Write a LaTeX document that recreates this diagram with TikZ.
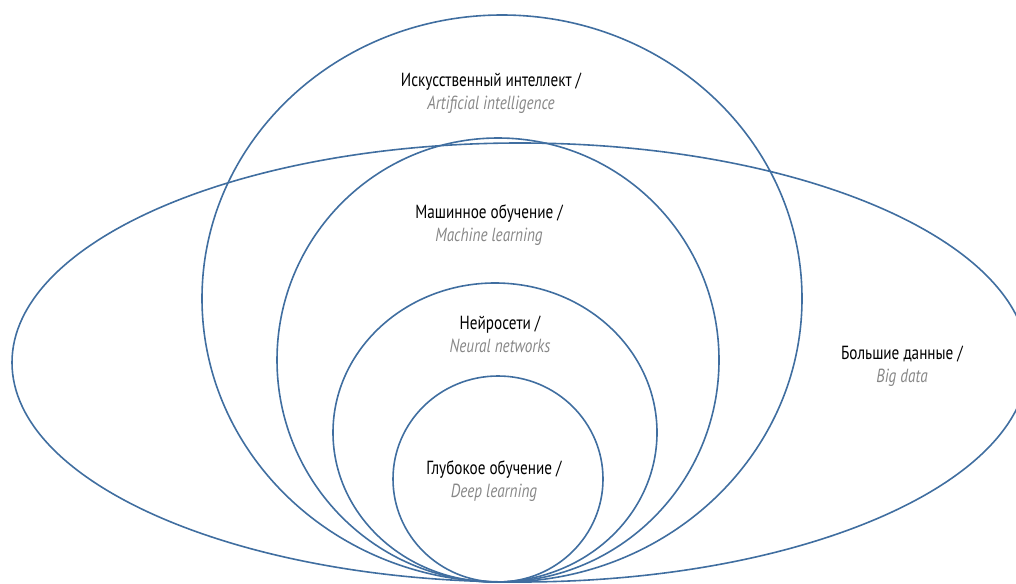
\documentclass[tikz,border=0pt]{standalone}
\usepackage{fontspec}
\setmainfont[FakeStretch=0.8]{PT Sans}
\usetikzlibrary{shapes.geometric}
\definecolor{ringblue}{RGB}{64,110,160}
\definecolor{subgray}{RGB}{135,135,135}
\tikzset{
  ring/.style={draw=ringblue, line width=1.6pt},
  lbl/.style={align=center, font=\fontsize{19}{23}\selectfont, inner sep=0pt, text=black},
}
\newcommand{\engl}[1]{{\color{subgray}\itshape #1}}
\begin{document}
\begin{tikzpicture}[x=1pt,y=-1pt]
\useasboundingbox (0,0) rectangle (1016,583);
\clip (0,0) rectangle (1016,583);
% shapes
\draw[ring] (520,362.5) ellipse [x radius=508pt, y radius=219.5pt];
\draw[ring] (502,298.5) ellipse [x radius=300pt, y radius=283.5pt];
\draw[ring] (498,360) ellipse [x radius=221pt, y radius=222pt];
\draw[ring] (495,432.5) ellipse [x radius=162pt, y radius=149.5pt];
\draw[ring] (498,479) ellipse [x radius=105pt, y radius=103pt];
% labels
\node[lbl] (ai) at (491,93) {Искусственный интеллект /\\\engl{Artificial intelligence}};
\node[lbl] (ml) at (489,225) {Машинное обучение /\\\engl{Machine learning}};
\node[lbl] (nn) at (500,334) {Нейросети /\\\engl{Neural networks}};
\node[lbl] (dl) at (494,481) {Глубокое обучение /\\\engl{Deep learning}};
\node[lbl] (bd) at (902,366) {Большие данные /\\\engl{Big data}};
\end{tikzpicture}
\end{document}
